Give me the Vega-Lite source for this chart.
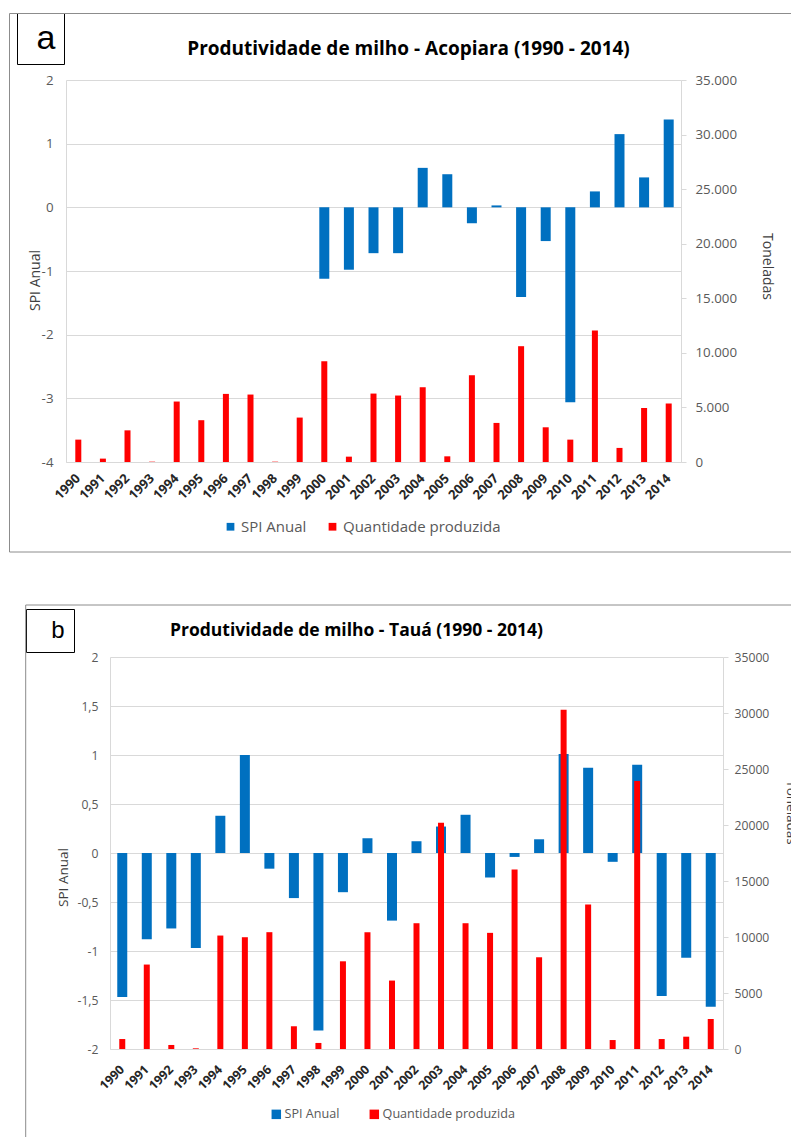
{
  "$schema": "https://vega.github.io/schema/vega-lite/v6.json",
  "background": "white",
  "padding": {"left": 9, "top": 12, "right": 0, "bottom": 0},
  "config": {
    "locale": {"number": {"decimal": ",", "thousands": ".", "grouping": [3], "currency": ["R$", ""], "minus": "-"}},
    "view": {"stroke": null},
    "font": "Open Sans",
    "axis": {"labelFont": "Open Sans", "titleFont": "Open Sans"},
    "legend": {"labelFont": "Open Sans"},
    "title": {"font": "Open Sans", "fontWeight": "bold", "color": "#000000"}
  },
  "datasets": {
    "acopiara": [
      {"ano": 1990, "spi": null, "ton": 2050},
      {"ano": 1991, "spi": null, "ton": 310},
      {"ano": 1992, "spi": null, "ton": 2900},
      {"ano": 1993, "spi": null, "ton": 30},
      {"ano": 1994, "spi": null, "ton": 5540},
      {"ano": 1995, "spi": null, "ton": 3830},
      {"ano": 1996, "spi": null, "ton": 6240},
      {"ano": 1997, "spi": null, "ton": 6180},
      {"ano": 1998, "spi": null, "ton": 30},
      {"ano": 1999, "spi": null, "ton": 4070},
      {"ano": 2000, "spi": -1.12, "ton": 9240},
      {"ano": 2001, "spi": -0.98, "ton": 490},
      {"ano": 2002, "spi": -0.72, "ton": 6270},
      {"ano": 2003, "spi": -0.72, "ton": 6090},
      {"ano": 2004, "spi": 0.62, "ton": 6850},
      {"ano": 2005, "spi": 0.52, "ton": 520},
      {"ano": 2006, "spi": -0.25, "ton": 7950},
      {"ano": 2007, "spi": 0.03, "ton": 3580},
      {"ano": 2008, "spi": -1.41, "ton": 10610},
      {"ano": 2009, "spi": -0.53, "ton": 3180},
      {"ano": 2010, "spi": -3.06, "ton": 2050},
      {"ano": 2011, "spi": 0.25, "ton": 12050},
      {"ano": 2012, "spi": 1.15, "ton": 1290},
      {"ano": 2013, "spi": 0.47, "ton": 4950},
      {"ano": 2014, "spi": 1.38, "ton": 5360}
    ],
    "taua": [
      {"ano": 1990, "spi": -1.47, "ton": 890},
      {"ano": 1991, "spi": -0.88, "ton": 7540},
      {"ano": 1992, "spi": -0.77, "ton": 360},
      {"ano": 1993, "spi": -0.97, "ton": 60},
      {"ano": 1994, "spi": 0.38, "ton": 10130},
      {"ano": 1995, "spi": 1.0, "ton": 9980},
      {"ano": 1996, "spi": -0.16, "ton": 10430},
      {"ano": 1997, "spi": -0.46, "ton": 2030},
      {"ano": 1998, "spi": -1.81, "ton": 540},
      {"ano": 1999, "spi": -0.4, "ton": 7830},
      {"ano": 2000, "spi": 0.15, "ton": 10430},
      {"ano": 2001, "spi": -0.69, "ton": 6110},
      {"ano": 2002, "spi": 0.12, "ton": 11230},
      {"ano": 2003, "spi": 0.27, "ton": 20200},
      {"ano": 2004, "spi": 0.39, "ton": 11230},
      {"ano": 2005, "spi": -0.25, "ton": 10370},
      {"ano": 2006, "spi": -0.04, "ton": 16030},
      {"ano": 2007, "spi": 0.14, "ton": 8190},
      {"ano": 2008, "spi": 1.01, "ton": 30300},
      {"ano": 2009, "spi": 0.87, "ton": 12900},
      {"ano": 2010, "spi": -0.09, "ton": 800},
      {"ano": 2011, "spi": 0.9, "ton": 23920},
      {"ano": 2012, "spi": -1.46, "ton": 890},
      {"ano": 2013, "spi": -1.07, "ton": 1100},
      {"ano": 2014, "spi": -1.57, "ton": 2680}
    ]
  },
  "spacing": 49,
  "resolve": {
    "scale": {"color": "independent", "shape": "independent", "fill": "independent"},
    "legend": {"color": "independent", "shape": "independent", "fill": "independent"}
  },
  "vconcat": [
    {
      "bounds": "flush",
      "spacing": 0,
      "resolve": {
        "scale": {"color": "independent", "shape": "independent", "fill": "independent"},
        "legend": {"color": "independent", "shape": "independent", "fill": "independent"}
      },
      "hconcat": [
        {
          "width": 10,
          "height": 1,
          "data": {"values": [{"painel": "a"}]},
          "mark": {"type": "point", "opacity": 0},
          "encoding": {
            "fill": {
              "datum": 1, "type": "quantitative",
              "scale": {"domain": [0, 1], "range": ["#ffffff", "#ffffff"]},
              "legend": {
                "orient": "none", "legendX": -46.5, "legendY": -66.5, "direction": "horizontal", "title": null,
                "gradientLength": 1000, "gradientThickness": 538.5, "gradientStrokeColor": "#8C8C8C", "gradientStrokeWidth": 1,
                "labelExpr": "''", "labelOpacity": 0, "labelFontSize": 1, "padding": 0,
                "encode": {"gradient": {"update": {"fillOpacity": {"value": 0}}}}
              }
            },
            "shape": {
              "field": "painel", "type": "nominal",
              "legend": {
                "orient": "none", "legendX": -39, "legendY": -67, "title": null,
                "symbolOpacity": 0, "symbolSize": 1, "symbolStrokeWidth": 0,
                "labelFont": "Liberation Sans", "labelFontSize": 34, "labelColor": "#000000",
                "labelOffset": -23, "padding": 8.5, "strokeColor": "#000000", "fillColor": "#ffffff",
                "encode": {"labels": {"update": {"dy": {"value": 5}}}}
              }
            }
          }
        },
        {
          "width": 615,
          "height": 382,
          "data": {"name": "acopiara"},
          "title": {"text": "Produtividade de milho - Acopiara (1990 - 2014)", "fontSize": 19, "dx": 35, "offset": 14, "anchor": "middle"},
          "layer": [
            {
              "mark": {"type": "bar", "size": 10},
              "encoding": {
                "x": {
                  "field": "ano", "type": "ordinal",
                  "scale": {"paddingInner": 0, "paddingOuter": 0},
                  "axis": {"title": null, "labelAngle": -45, "labelBaseline": "middle", "labelAlign": "right", "labelFontWeight": "bold", "labelFontSize": 13, "labelColor": "#262626", "labelPadding": 14, "ticks": false, "domainColor": "#D9D9D9", "grid": false}
                },
                "y": {
                  "field": "spi", "type": "quantitative",
                  "scale": {"domain": [-4, 2], "nice": false},
                  "axis": {"orient": "left", "values": [-4, -3, -2, -1, 0, 1, 2], "format": "d", "grid": true, "gridColor": "#D9D9D9", "domain": true, "domainColor": "#D9D9D9", "ticks": false, "labelPadding": 13, "labelFontSize": 13.3, "labelColor": "#595959", "title": "SPI Anual", "titleFontSize": 14, "titleFontWeight": "normal", "titleColor": "#404040", "titleX": -31, "titleY": 200, "titleAngle": -90, "titleBaseline": "middle", "titleAlign": "center"}
                },
                "color": {
                  "datum": "SPI Anual", "type": "nominal",
                  "scale": {"domain": ["SPI Anual", "Quantidade produzida"], "range": ["#0070C0", "#FF0000"]},
                  "legend": {"orient": "none", "legendX": 157, "legendY": 439, "direction": "horizontal", "title": null, "symbolType": "square", "symbolSize": 60, "symbolStrokeWidth": 0, "labelFontSize": 15, "labelColor": "#595959", "labelOffset": 3, "columnPadding": 18, "padding": 0}
                }
              }
            },
            {
              "mark": {"type": "bar", "size": 6},
              "encoding": {
                "x": {"field": "ano", "type": "ordinal"},
                "y": {
                  "field": "ton", "type": "quantitative",
                  "scale": {"domain": [0, 35000], "nice": false},
                  "axis": {"orient": "right", "values": [0, 5000, 10000, 15000, 20000, 25000, 30000, 35000], "format": ",d", "grid": false, "domain": true, "domainColor": "#D9D9D9", "ticks": true, "tickColor": "#D9D9D9", "tickSize": 5, "labelPadding": 9, "labelFontSize": 13.3, "labelColor": "#595959", "title": "Toneladas", "titleFontSize": 14, "titleFontWeight": "normal", "titleColor": "#404040", "titleX": 85, "titleY": 186, "titleAngle": 90, "titleBaseline": "middle", "titleAlign": "center"}
                },
                "color": {"datum": "Quantidade produzida", "type": "nominal"}
              }
            }
          ],
          "resolve": {"scale": {"y": "independent"}}
        }
      ]
    },
    {
      "bounds": "flush",
      "spacing": 0,
      "resolve": {
        "scale": {"color": "independent", "shape": "independent", "fill": "independent"},
        "legend": {"color": "independent", "shape": "independent", "fill": "independent"}
      },
      "hconcat": [
        {
          "width": 54,
          "height": 1,
          "data": {"values": [{"painel": "b"}]},
          "mark": {"type": "point", "opacity": 0},
          "encoding": {
            "fill": {
              "datum": 1, "type": "quantitative",
              "scale": {"domain": [0, 1], "range": ["#ffffff", "#ffffff"]},
              "legend": {
                "orient": "none", "legendX": -30.3, "legendY": -52, "direction": "horizontal", "title": null,
                "gradientLength": 830, "gradientThickness": 560, "gradientStrokeColor": "#8C8C8C", "gradientStrokeWidth": 1,
                "labelExpr": "''", "labelOpacity": 0, "labelFontSize": 1, "padding": 0,
                "encode": {"gradient": {"update": {"fillOpacity": {"value": 0}}}}
              }
            },
            "shape": {
              "field": "painel", "type": "nominal",
              "legend": {
                "orient": "none", "legendX": -30, "legendY": -48, "title": null,
                "symbolType": "stroke", "symbolOpacity": 0, "symbolSize": 676, "symbolStrokeWidth": 0,
                "labelFont": "Liberation Sans", "labelFontSize": 24, "labelColor": "#000000",
                "labelOffset": -9.3, "padding": 8.5, "strokeColor": "#000000", "fillColor": "#ffffff",
                "encode": {"labels": {"update": {"dy": {"value": 4}}}}
              }
            }
          }
        },
        {
          "width": 613,
          "height": 392,
          "data": {"name": "taua"},
          "title": {"text": "Produtividade de milho - Tauá (1990 - 2014)", "fontSize": 17.5, "dx": -60, "offset": 12, "anchor": "middle"},
          "layer": [
            {
              "mark": {"type": "bar", "size": 10},
              "encoding": {
                "x": {
                  "field": "ano", "type": "ordinal",
                  "scale": {"paddingInner": 0, "paddingOuter": 0},
                  "axis": {"title": null, "labelAngle": -45, "labelBaseline": "middle", "labelAlign": "right", "labelFontWeight": "bold", "labelFontSize": 12.5, "labelColor": "#262626", "labelPadding": 18, "ticks": false, "domainColor": "#D9D9D9", "grid": false}
                },
                "y": {
                  "field": "spi", "type": "quantitative",
                  "scale": {"domain": [-2, 2], "nice": false},
                  "axis": {"orient": "left", "values": [-2, -1.5, -1, -0.5, 0, 0.5, 1, 1.5, 2], "format": "~g", "grid": true, "gridColor": "#D9D9D9", "domain": true, "domainColor": "#D9D9D9", "ticks": false, "labelPadding": 12, "labelFontSize": 12.2, "labelColor": "#595959", "title": "SPI Anual", "titleFontSize": 13.5, "titleFontWeight": "normal", "titleColor": "#404040", "titleX": -47, "titleY": 220, "titleAngle": -90, "titleBaseline": "middle", "titleAlign": "center"}
                },
                "color": {
                  "datum": "SPI Anual", "type": "nominal",
                  "scale": {"domain": ["SPI Anual", "Quantidade produzida"], "range": ["#0070C0", "#FF0000"]},
                  "legend": {"orient": "none", "legendX": 160, "legendY": 451, "direction": "horizontal", "title": null, "symbolType": "square", "symbolSize": 90, "symbolStrokeWidth": 0, "labelFontSize": 12.6, "labelColor": "#595959", "labelOffset": 2, "columnPadding": 28, "padding": 0}
                }
              }
            },
            {
              "mark": {"type": "bar", "size": 6},
              "encoding": {
                "x": {"field": "ano", "type": "ordinal"},
                "y": {
                  "field": "ton", "type": "quantitative",
                  "scale": {"domain": [0, 35000], "nice": false},
                  "axis": {"orient": "right", "values": [0, 5000, 10000, 15000, 20000, 25000, 30000, 35000], "format": "d", "grid": false, "domain": true, "domainColor": "#D9D9D9", "ticks": true, "tickColor": "#D9D9D9", "tickSize": 5, "labelPadding": 6, "labelFontSize": 12.2, "labelColor": "#595959", "title": "Toneladas", "titleFontSize": 13.5, "titleFontWeight": "normal", "titleColor": "#404040", "titleX": 67, "titleY": 155, "titleAngle": 90, "titleBaseline": "middle", "titleAlign": "center"}
                },
                "color": {"datum": "Quantidade produzida", "type": "nominal"}
              }
            }
          ],
          "resolve": {"scale": {"y": "independent"}}
        }
      ]
    }
  ]
}
